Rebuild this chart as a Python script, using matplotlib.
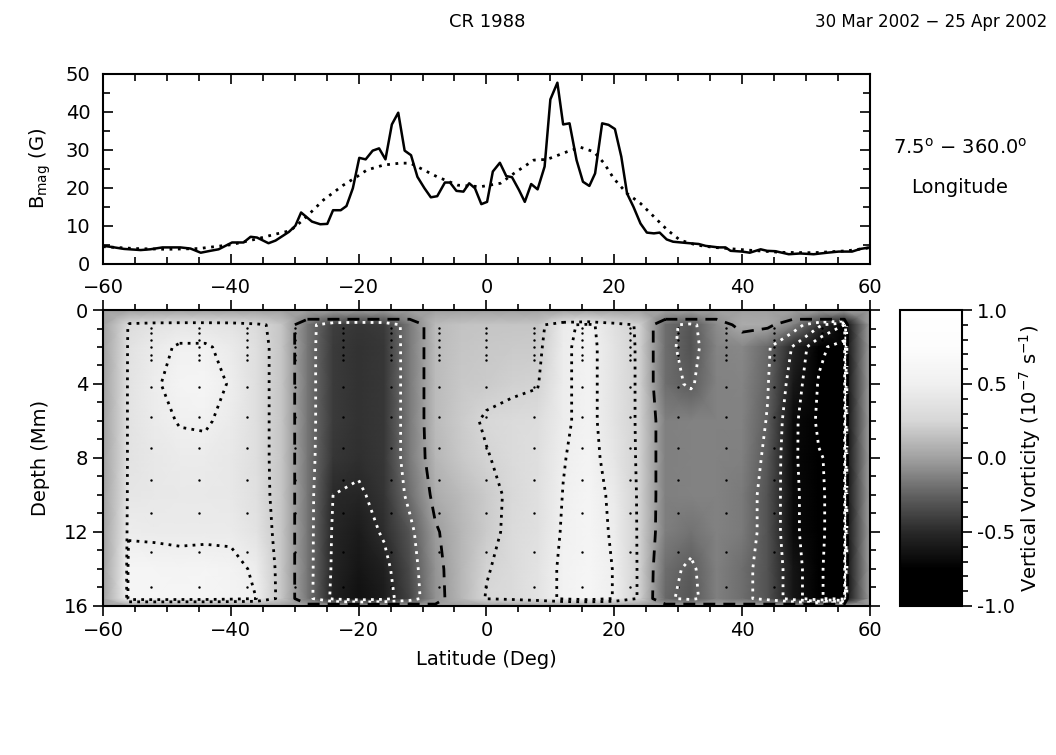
import numpy as np
import matplotlib
matplotlib.use('Agg')
import matplotlib.pyplot as plt
from matplotlib.colors import LinearSegmentedColormap
from matplotlib.ticker import MultipleLocator

plt.rcParams['font.family'] = 'DejaVu Sans'
plt.rcParams['font.size'] = 14

# magnetic field strength averaged over longitude
bmag_lat = [-60, -59, -56.7, -54.1, -52.6, -50.7, -47.9, -46.3, -44.7, -43.2, -41.9, -39.8,
            -38.0, -36.9, -35.9, -34.1, -33.0, -30.9, -29.9, -29.0, -27.3, -26.0, -24.9, -24.0,
            -22.8, -21.9, -20.9, -19.9, -18.9, -17.8, -16.8, -15.8, -14.8, -13.8, -12.8, -11.8,
            -10.8, -9.7, -8.7, -7.7, -6.5, -5.7, -4.7, -3.6, -2.7, -1.8, -0.8, 0.1,
            1.0, 2.1, 3.1, 4.0, 5.1, 6.0, 7.0, 8.0, 9.1, 10.0, 11.1, 12.0,
            13.0, 14.1, 15.1, 16.1, 17.0, 18.1, 19.1, 20.1, 21.1, 22.0, 23.0, 24.1,
            25.1, 26.2, 27.1, 28.2, 29.2, 31.1, 33.2, 34.3, 36.3, 37.4, 38.2, 40.0,
            41.2, 42.9, 43.9, 45.2, 47.3, 49.1, 51.2, 53.3, 55.1, 57.2, 58.5, 60]
bmag = [4.7, 4.5, 3.9, 3.6, 3.8, 4.3, 4.3, 4.0, 2.9, 3.4, 3.8, 5.6,
        5.6, 7.1, 6.9, 5.4, 6.1, 8.4, 10.0, 13.5, 11.1, 10.4, 10.5, 14.1,
        14.1, 15.2, 19.9, 27.9, 27.5, 29.8, 30.4, 27.5, 36.7, 39.8, 29.8, 28.6,
        22.9, 19.9, 17.5, 17.8, 21.4, 21.4, 19.2, 19.0, 21.2, 19.9, 15.7, 16.3,
        24.3, 26.6, 23.1, 22.8, 19.4, 16.3, 21.0, 19.6, 25.6, 43.3, 47.7, 36.7,
        37.0, 27.3, 21.6, 20.5, 23.8, 37.0, 36.6, 35.5, 28.2, 18.5, 15.0, 10.6,
        8.2, 8.0, 8.2, 6.4, 5.8, 5.5, 5.2, 4.7, 4.3, 4.3, 3.4, 3.2,
        2.9, 3.8, 3.4, 3.3, 2.5, 2.7, 2.5, 2.9, 3.2, 3.2, 3.9, 4.3]

# long-term mean profile (dotted)
bmag_mean_lat = [-60, -55, -50, -45, -40, -36, -33, -30.7, -28.7, -25.5, -22.4, -20.3,
                 -18.7, -16.1, -13.5, -11.9, -9.8, -7.7, -4.5, -0.9, 2.2, 4.3, 7.4, 9.5,
                 12.6, 14.7, 16.8, 18.4, 19.9, 22.0, 24.1, 26.2, 28.3, 30.3, 32.9, 35.6,
                 40.8, 46.0, 51.2, 56.4, 60]
bmag_mean = [4.5, 4.0, 3.8, 4.0, 5.0, 6.5, 7.8, 8.7, 11.5, 16.8, 20.7, 22.9,
             24.7, 26.0, 26.5, 26.5, 24.7, 22.9, 20.7, 20.3, 21.2, 23.8, 27.3, 27.5,
             29.5, 30.7, 29.5, 26.5, 22.5, 18.5, 15.9, 12.4, 8.9, 6.2, 4.9, 4.3,
             3.6, 3.0, 2.9, 3.4, 4.2]

# vertical vorticity (1e-7 1/s), rows = depth, columns = latitude
vort_lat = [-56, -52, -48, -44, -40, -36, -32, -28, -24, -20, -16, -12, -8, -4, 0,
            4, 8, 12, 16, 20, 24, 28, 32, 36, 40, 44, 48, 52, 56]
vort_depth = [0.8, 2, 4, 6, 8, 10, 12, 14, 15.6]
vort = [
    [0.32, 0.38, 0.40, 0.40, 0.38, 0.30, 0.17, -0.17, -0.40, -0.44, -0.42, -0.15, 0.12, 0.16, 0.17,
     0.17, 0.17, 0.45, 0.55, 0.35, 0.22, -0.20, -0.30, -0.08, 0.05, 0.04, -0.12, -0.45, -0.75],
    [0.36, 0.45, 0.52, 0.52, 0.45, 0.33, 0.17, -0.17, -0.42, -0.46, -0.43, -0.15, 0.12, 0.17, 0.18,
     0.19, 0.20, 0.47, 0.56, 0.38, 0.22, -0.20, -0.32, -0.11, -0.10, -0.22, -0.52, -0.95, -1.10],
    [0.38, 0.47, 0.58, 0.60, 0.48, 0.33, 0.17, -0.17, -0.42, -0.46, -0.43, -0.15, 0.12, 0.18, 0.20,
     0.22, 0.24, 0.47, 0.56, 0.38, 0.22, -0.20, -0.27, -0.12, -0.11, -0.24, -0.60, -1.02, -1.10],
    [0.38, 0.45, 0.51, 0.52, 0.45, 0.33, 0.17, -0.17, -0.42, -0.46, -0.43, -0.15, 0.12, 0.20, 0.27,
     0.30, 0.32, 0.47, 0.56, 0.38, 0.22, -0.13, -0.12, -0.12, -0.12, -0.26, -0.68, -1.05, -1.10],
    [0.38, 0.42, 0.45, 0.45, 0.42, 0.33, 0.17, -0.17, -0.44, -0.47, -0.43, -0.15, 0.10, 0.18, 0.24,
     0.30, 0.33, 0.49, 0.58, 0.40, 0.22, -0.13, -0.12, -0.12, -0.13, -0.29, -0.70, -0.98, -1.10],
    [0.40, 0.42, 0.43, 0.43, 0.42, 0.34, 0.17, -0.17, -0.50, -0.52, -0.45, -0.20, 0.05, 0.12, 0.20,
     0.28, 0.35, 0.505, 0.60, 0.45, 0.22, -0.13, -0.12, -0.12, -0.15, -0.32, -0.68, -0.97, -1.10],
    [0.47, 0.46, 0.45, 0.45, 0.46, 0.38, 0.17, -0.17, -0.52, -0.58, -0.48, -0.30, -0.02, 0.10, 0.20,
     0.29, 0.35, 0.52, 0.60, 0.47, 0.22, -0.14, -0.18, -0.12, -0.15, -0.32, -0.68, -0.97, -1.10],
    [0.60, 0.60, 0.58, 0.60, 0.56, 0.47, 0.17, -0.17, -0.53, -0.62, -0.55, -0.35, -0.05, 0.10, 0.24,
     0.30, 0.38, 0.54, 0.62, 0.49, 0.22, -0.20, -0.28, -0.13, -0.20, -0.32, -0.62, -0.98, -1.10],
    [0.60, 0.62, 0.60, 0.60, 0.56, 0.50, 0.17, -0.17, -0.55, -0.65, -0.58, -0.38, -0.06, 0.10, 0.26,
     0.30, 0.38, 0.54, 0.62, 0.49, 0.22, -0.22, -0.30, -0.13, -0.20, -0.32, -0.62, -0.98, -1.10],
]

# centres of the analysis tiles
tile_lat = [-52.5, -45, -37.5, -30, -22.5, -15, -7.5, 0, 7.5, 15, 22.5, 30, 37.5, 45, 52.5]
tile_depth = [0.97, 1.24, 1.62, 2.0, 2.43, 2.7, 4.16, 5.78, 7.46, 9.2, 10.97, 13.1, 14.97]

# grey table of the vorticity colour bar
grey_val = [-1.0, -0.75, -0.5, -0.25, 0.0, 0.25, 0.5, 0.75, 1.0]
grey_lev = [0.0, 0.0, 0.16, 0.38, 0.63, 0.84, 0.94, 0.99, 1.0]

cmap = LinearSegmentedColormap.from_list(
    'vort', [((v + 1) / 2, (g, g, g)) for v, g in zip(grey_val, grey_lev)])

vort = np.array(vort)
vpad = np.pad(vort, 1)  # zero outside the analysed area
# image fades to zero at the frame, contours close right at the data edge
lat_img = np.concatenate([[-60], vort_lat, [60]])
dep_img = np.concatenate([[0], vort_depth, [16]])
lat_c = np.concatenate([[-56.5], vort_lat, [56.5]])
dep_c = np.concatenate([[0.5], vort_depth, [15.9]])

fig = plt.figure(figsize=(10.56, 7.55), dpi=100)

# --- top panel: B_mag
ax1 = fig.add_axes([0.0975, 0.6507, 0.7263, 0.2513])
ax1.plot(bmag_lat, bmag, color='k', lw=1.8)
ax1.plot(bmag_mean_lat, bmag_mean, color='k', lw=2, linestyle=(0, (1, 2)))
ax1.set_xlim(-60, 60)
ax1.set_ylim(0, 50)
ax1.xaxis.set_major_locator(MultipleLocator(20))
ax1.xaxis.set_minor_locator(MultipleLocator(5))
ax1.yaxis.set_major_locator(MultipleLocator(10))
ax1.yaxis.set_minor_locator(MultipleLocator(5))
ax1.tick_params(which='both', direction='in', top=True, right=True, width=1.2)
ax1.tick_params(which='major', length=7)
ax1.tick_params(which='minor', length=5)
ax1.tick_params(axis='x', pad=10)
ax1.tick_params(axis='y', pad=9)
for s in ax1.spines.values():
    s.set_linewidth(1.5)

# --- bottom panel: vorticity vs latitude and depth
ax2 = fig.add_axes([0.0975, 0.1974, 0.7263, 0.392])
LL, DD = np.meshgrid(lat_img, dep_img)
mesh = ax2.pcolormesh(LL, DD, vpad, cmap=cmap, vmin=-1, vmax=1, shading='gouraud')
TL, TD = np.meshgrid(tile_lat, tile_depth)
ax2.plot(TL.ravel(), TD.ravel(), 'k.', ms=1.5)

CL, CD = np.meshgrid(lat_c, dep_c)
dots = (0, (1, 1.9))
ax2.contour(CL, CD, vpad, levels=[0.25, 0.5], colors='k', linewidths=2,
            linestyles=[dots, dots])
ax2.contour(CL, CD, vpad, levels=[-1.0, -0.75, -0.5, -0.25], colors='white', linewidths=2,
            linestyles=[dots] * 4)
# zero line on the negated field so the zero border sides with positive values
ax2.contour(CL, CD, -vpad, levels=[0], colors='k', linewidths=2,
            linestyles=[(0, (4.3, 2.9))])

ax2.set_xlim(-60, 60)
ax2.set_ylim(16, 0)
ax2.xaxis.set_major_locator(MultipleLocator(20))
ax2.xaxis.set_minor_locator(MultipleLocator(5))
ax2.yaxis.set_major_locator(MultipleLocator(4))
ax2.yaxis.set_minor_locator(MultipleLocator(1))
ax2.tick_params(which='both', direction='out', top=True, right=True, width=1.2)
ax2.tick_params(which='major', length=7)
ax2.tick_params(which='minor', length=4)
for s in ax2.spines.values():
    s.set_linewidth(1.5)

# --- colour bar
cax = fig.add_axes([0.8523, 0.1974, 0.0587, 0.392])
cb = fig.colorbar(mesh, cax=cax, ticks=[-1, -0.5, 0, 0.5, 1], format='%.1f')
cb.ax.yaxis.set_minor_locator(MultipleLocator(0.1))
cb.ax.tick_params(which='both', direction='out', width=1.2)
cb.ax.tick_params(which='major', length=7)
cb.ax.tick_params(which='minor', length=4)
cb.outline.set_linewidth(1.5)

# --- labels
fig.text(0.461, 0.971, 'CR 1988', ha='center', va='center', fontsize=13)
fig.text(0.882, 0.971, '30 Mar 2002 \u2212 25 Apr 2002', ha='center', va='center', fontsize=12)
fig.text(0.909, 0.805, r'7.5$^{\rm o}$ $-$ 360.0$^{\rm o}$', ha='center', va='center', fontsize=14)
fig.text(0.909, 0.752, 'Longitude', ha='center', va='center', fontsize=14)
fig.text(0.038, 0.777, r'B$_{\rm mag}$ (G)', rotation=90, ha='center', va='center', fontsize=14)
fig.text(0.038, 0.393, 'Depth (Mm)', rotation=90, ha='center', va='center', fontsize=14)
fig.text(0.461, 0.126, 'Latitude (Deg)', ha='center', va='center', fontsize=14)
fig.text(0.975, 0.393, r'Vertical Vorticity (10$^{-7}$ s$^{-1}$)', rotation=90,
         ha='center', va='center', fontsize=14)

fig.savefig('out.png', dpi=100)
